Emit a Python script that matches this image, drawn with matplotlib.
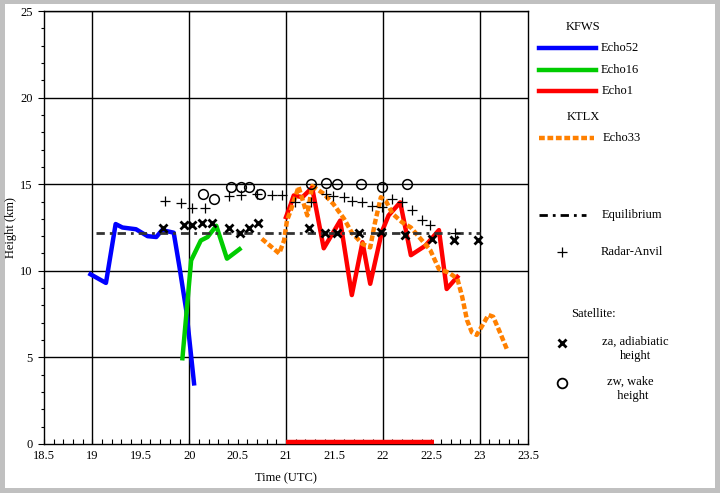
import matplotlib.pyplot as plt
from matplotlib.lines import Line2D
from matplotlib.patches import Rectangle
from matplotlib.ticker import MultipleLocator

plt.rcParams['font.family'] = ['Liberation Serif', 'DejaVu Serif']
plt.rcParams['font.size'] = 9

# ------------------------------------------
# Data
# ------------------------------------------
echo52_t = [18.98, 19.14, 19.24, 19.31, 19.45, 19.57, 19.66, 19.72, 19.84, 19.90, 19.97, 20.05]
echo52_h = [9.8, 9.3, 12.7, 12.5, 12.4, 12.0, 11.95, 12.35, 12.2, 10.2, 7.7, 3.5]

echo16_t = [19.93, 20.02, 20.12, 20.19, 20.28, 20.39, 20.52]
echo16_h = [4.95, 10.6, 11.75, 11.95, 12.6, 10.7, 11.25]

echo1_t = [21.00, 21.05, 21.08, 21.17, 21.27, 21.39, 21.56, 21.68, 21.79, 21.87, 21.99,
           22.06, 22.18, 22.29, 22.44, 22.58, 22.66, 22.77]
echo1_h = [13.1, 13.85, 14.35, 14.25, 14.8, 11.3, 12.9, 8.6, 11.65, 9.25, 12.25,
           13.2, 13.95, 10.9, 11.45, 12.35, 8.95, 9.65]
echo1_span = [21.0, 22.53]   # red bar along the time axis

echo33_t = [20.75, 20.93, 20.98, 21.01, 21.05, 21.13, 21.22, 21.27, 21.39, 21.49, 21.60,
            21.68, 21.79, 21.87, 21.92, 21.98, 22.03, 22.10, 22.20, 22.29, 22.39, 22.49,
            22.58, 22.68, 22.77, 22.82, 22.87, 22.92, 22.97, 23.04, 23.09, 23.14, 23.21, 23.28]
echo33_h = [11.85, 11.0, 11.75, 12.9, 13.5, 14.85, 13.2, 14.9, 14.45, 13.85, 13.0,
            12.2, 11.55, 11.35, 12.8, 14.25, 14.05, 13.3, 12.8, 12.5, 11.85, 11.2,
            10.1, 9.9, 9.55, 8.5, 7.15, 6.45, 6.3, 6.95, 7.45, 7.35, 6.45, 5.5]

equil_t = [19.04, 23.0]
equil_h = [12.2, 12.2]

anvil_t = [19.75, 19.92, 20.03, 20.16, 20.41, 20.54, 20.70, 20.86, 20.96, 21.09, 21.26,
           21.41, 21.49, 21.60, 21.68, 21.78, 21.89, 21.99, 22.09, 22.20, 22.30, 22.40,
           22.49, 22.75]
anvil_h = [14.05, 13.9, 13.6, 13.6, 14.3, 14.35, 14.45, 14.4, 14.4, 14.0, 14.0,
           14.45, 14.3, 14.25, 14.05, 13.95, 13.75, 13.7, 14.15, 14.0, 13.5, 12.95,
           12.65, 12.2]

za_t = [19.73, 19.95, 20.03, 20.13, 20.24, 20.41, 20.52, 20.62, 20.71, 21.24, 21.40,
        21.53, 21.75, 21.98, 22.23, 22.51, 22.74, 22.98]
za_h = [12.5, 12.65, 12.65, 12.75, 12.75, 12.45, 12.2, 12.45, 12.75, 12.5, 12.2,
        12.2, 12.2, 12.25, 12.05, 11.85, 11.8, 11.75]

zw_t = [20.14, 20.26, 20.43, 20.54, 20.62, 20.73, 21.26, 21.41, 21.53, 21.77, 21.99, 22.25]
zw_h = [14.45, 14.15, 14.85, 14.85, 14.85, 14.45, 15.0, 15.05, 15.0, 15.0, 14.85, 15.0]

hour_grid = [19, 20, 21, 22, 23]
x_labels = ['18.5', '19', '19.5', '20', '20.5', '21', '21.5', '22', '22.5', '23', '23.5']
y_labels = ['0', '5', '10', '15', '20', '25']

BLUE = '#0000ff'
GREEN = '#00cc00'
RED = '#ff0000'
ORANGE = '#ff8000'
EQ = '#333333'
orange_dots = (0, (1.3, 0.6))
eq_dash = (0, (3, 1.8, 1, 1.8))

# ------------------------------------------
# Figure with grey frame
# ------------------------------------------
W, H = 720, 493
fig = plt.figure(figsize=(W / 100, H / 100), dpi=100)
fig.patch.set_facecolor('#c0c0c0')
fig.add_artist(Rectangle((5 / W, 5 / H), 710 / W, 484 / H, transform=fig.transFigure,
                         facecolor='white', edgecolor='none', zorder=-10))

ax = fig.add_axes([44 / W, 1 - 444 / H, 484 / W, 433 / H])

for t in hour_grid:
    ax.axvline(t, color='black', lw=1, zorder=1)
for h in [float(s) for s in y_labels[1:]]:
    ax.axhline(h, color='black', lw=1, zorder=1)

ax.plot(echo52_t, echo52_h, color=BLUE, lw=3.2, zorder=3)
ax.plot(echo16_t, echo16_h, color=GREEN, lw=3.2, zorder=3)
ax.plot(echo1_t, echo1_h, color=RED, lw=3.2, zorder=3)
ax.plot(echo1_span, [0.1, 0.1], color=RED, lw=3.2, zorder=4, clip_on=False,
        solid_capstyle='butt')
ax.plot(echo33_t, echo33_h, color=ORANGE, lw=3.2, ls=orange_dots, zorder=4)
ax.plot(equil_t, equil_h, color=EQ, lw=2, ls=eq_dash, zorder=5)

ax.plot(anvil_t, anvil_h, ls='none', marker='+', ms=7, mew=0.9, color='black', zorder=6)
ax.plot(za_t, za_h, ls='none', marker='x', ms=6, mew=2, color='black', zorder=6)
ax.plot(zw_t, zw_h, ls='none', marker='o', ms=7, mew=1.1, mfc='none', mec='black', zorder=6)

ax.set_xticks([float(s) for s in x_labels])
ax.set_xticklabels(x_labels, fontsize=9)
ax.set_yticks([float(s) for s in y_labels])
ax.set_yticklabels(y_labels, fontsize=9)
ax.xaxis.set_minor_locator(MultipleLocator(0.1))
ax.yaxis.set_minor_locator(MultipleLocator(1))
ax.set_xlim(18.5, 23.5)
ax.set_ylim(0, 25)
ax.tick_params(axis='x', which='both', direction='in', length=3.5, width=0.8, pad=4)
ax.tick_params(axis='y', which='major', direction='out', length=4.3, width=0.8, pad=4)
ax.tick_params(axis='y', which='minor', direction='out', length=2.4, width=0.8)
for s in ax.spines.values():
    s.set_linewidth(1)

ax.set_xlabel('Time (UTC)', fontsize=9)
ax.xaxis.set_label_coords(0.5, -28 / 433)
ax.set_ylabel('Height (km)', fontsize=9)
ax.yaxis.set_label_coords(-27 / 484, 0.5)

# ------------------------------------------
# Hand-built legend on the right
# ------------------------------------------
def fx(x):
    return x / W


def fy(y):
    return 1 - y / H


def leg_line(x0, x1, y, **kw):
    fig.add_artist(Line2D([fx(x0), fx(x1)], [fy(y), fy(y)], transform=fig.transFigure, **kw))


fig.text(fx(583), fy(27), 'KFWS', ha='center', va='center')
leg_line(539, 596, 48, color=BLUE, lw=3.2)
fig.text(fx(601), fy(48), 'Echo52', va='center')
leg_line(539, 596, 70, color=GREEN, lw=3.2)
fig.text(fx(601), fy(70), 'Echo16', va='center')
leg_line(539, 596, 91, color=RED, lw=3.2)
fig.text(fx(602), fy(91), 'Echo1', va='center')

fig.text(fx(583), fy(117), 'KTLX', ha='center', va='center')
leg_line(539, 594, 138, color=ORANGE, lw=3.2, ls=orange_dots)
fig.text(fx(603), fy(138), 'Echo33', va='center')

leg_line(539, 586, 215, color='black', lw=2, ls=eq_dash)
fig.text(fx(602), fy(215), 'Equilibrium', va='center')

fig.add_artist(Line2D([fx(562)], [fy(252)], transform=fig.transFigure, marker='+', ms=7,
                      mew=0.9, color='black', ls='none'))
fig.text(fx(601), fy(252), 'Radar-Anvil', va='center')

fig.text(fx(593), fy(314), 'Satellite:', ha='center', va='center')
fig.add_artist(Line2D([fx(562)], [fy(343)], transform=fig.transFigure, marker='x', ms=6,
                      mew=2, color='black', ls='none'))
fig.text(fx(635), fy(349), 'za, adiabiatic\nheight', ha='center', va='center',
         linespacing=1.3)
fig.add_artist(Line2D([fx(562)], [fy(383)], transform=fig.transFigure, marker='o', ms=7,
                      mew=1.3, mfc='none', mec='black', ls='none'))
fig.text(fx(630), fy(389), 'zw, wake\n  height', ha='center', va='center', linespacing=1.3)

fig.savefig('out.png', dpi=100, facecolor=fig.get_facecolor())
